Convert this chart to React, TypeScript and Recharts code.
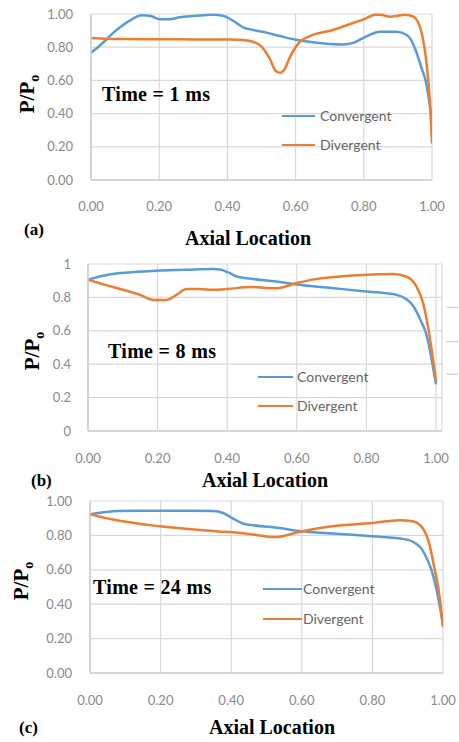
import React from 'react';
import { LineChart, Line, XAxis, YAxis, CartesianGrid, ReferenceLine } from 'recharts';

// ---------- data ----------
const xTicks = [0, 0.2, 0.4, 0.6, 0.8, 1.0];
const yTicks = [0, 0.2, 0.4, 0.6, 0.8, 1.0];
const seriesNames = ['Convergent', 'Divergent'];
const seriesColors = ['#5b9bd5', '#ed7d31'];
const panelLabels = ['(a)', '(b)', '(c)'];
const timeLabels = ['Time = 1 ms', 'Time = 8 ms', 'Time = 24 ms'];
const xTitle = 'Axial Location';

// (a) Time = 1 ms
const aConvX = [0, 0.02, 0.046, 0.07, 0.094, 0.12, 0.148, 0.175, 0.202, 0.23, 0.26, 0.3, 0.34, 0.358, 0.387, 0.416, 0.446, 0.475, 0.51, 0.554, 0.6, 0.65, 0.7, 0.74, 0.769, 0.809, 0.848, 0.897, 0.926, 0.94, 0.955, 0.97, 0.98, 0.99, 1.0];
const aConvY = [0.767, 0.8, 0.848, 0.895, 0.934, 0.968, 0.992, 0.988, 0.968, 0.968, 0.98, 0.988, 0.994, 0.996, 0.99, 0.96, 0.92, 0.904, 0.89, 0.867, 0.845, 0.83, 0.82, 0.817, 0.826, 0.867, 0.893, 0.893, 0.873, 0.84, 0.765, 0.67, 0.61, 0.5, 0.35];
const aDivX = [0, 0.05, 0.1, 0.2, 0.3, 0.4, 0.435, 0.475, 0.5, 0.523, 0.543, 0.555, 0.567, 0.584, 0.6, 0.613, 0.642, 0.71, 0.76, 0.8, 0.833, 0.85, 0.877, 0.9, 0.921, 0.945, 0.958, 0.97, 0.985, 0.993, 1.0];
const aDivY = [0.855, 0.85, 0.849, 0.848, 0.847, 0.847, 0.845, 0.833, 0.803, 0.735, 0.655, 0.646, 0.665, 0.743, 0.8, 0.833, 0.867, 0.904, 0.94, 0.968, 0.996, 0.995, 0.984, 0.99, 0.996, 0.985, 0.955, 0.884, 0.683, 0.5, 0.22];

// (b) Time = 8 ms
const bConvX = [0, 0.04, 0.092, 0.14, 0.197, 0.28, 0.36, 0.379, 0.405, 0.427, 0.475, 0.552, 0.6, 0.7, 0.8, 0.887, 0.914, 0.93, 0.944, 0.956, 0.968, 0.978, 0.988, 1.0];
const bConvY = [0.906, 0.928, 0.946, 0.953, 0.96, 0.965, 0.97, 0.967, 0.948, 0.925, 0.91, 0.892, 0.877, 0.856, 0.835, 0.815, 0.79, 0.76, 0.715, 0.66, 0.605, 0.53, 0.42, 0.28];
const bDivX = [0, 0.05, 0.101, 0.15, 0.188, 0.226, 0.254, 0.283, 0.32, 0.36, 0.4, 0.466, 0.543, 0.6, 0.65, 0.705, 0.8, 0.877, 0.914, 0.93, 0.944, 0.963, 0.977, 0.988, 1.0];
const bDivY = [0.906, 0.875, 0.846, 0.815, 0.785, 0.785, 0.815, 0.85, 0.85, 0.846, 0.85, 0.862, 0.855, 0.886, 0.908, 0.922, 0.936, 0.94, 0.925, 0.905, 0.865, 0.766, 0.625, 0.48, 0.3];
// short stray tick marks right of panel (b)
const bStubY = [0.74, 0.535, 0.34];
const bStubX = [1.03, 1.064];

// (c) Time = 24 ms
const cConvX = [0, 0.04, 0.083, 0.15, 0.25, 0.35, 0.377, 0.405, 0.433, 0.462, 0.537, 0.592, 0.7, 0.8, 0.895, 0.924, 0.94, 0.952, 0.966, 0.98, 0.99, 1.0];
const cConvY = [0.923, 0.935, 0.942, 0.943, 0.943, 0.942, 0.93, 0.898, 0.869, 0.859, 0.843, 0.826, 0.81, 0.795, 0.777, 0.752, 0.72, 0.674, 0.607, 0.5, 0.4, 0.277];
const cDivX = [0, 0.065, 0.198, 0.35, 0.445, 0.525, 0.592, 0.686, 0.8, 0.876, 0.914, 0.943, 0.961, 0.975, 0.99, 1.0];
const cDivY = [0.923, 0.892, 0.853, 0.826, 0.81, 0.79, 0.82, 0.853, 0.872, 0.888, 0.882, 0.84, 0.752, 0.616, 0.45, 0.267];

const zip = (xs: number[], ys: number[]) => xs.map((x, i) => ({ x, y: ys[i] }));

// ---------- layout ----------
const panels = [
  {
    top: 0, height: 250, margin: { top: 14, right: 27, bottom: 40, left: 51 },
    xMax: 1, yFmt: (v: number) => v.toFixed(2), yTickMargin: 18, xTickMargin: 22,
    series: [zip(aConvX, aConvY), zip(aDivX, aDivY)], stubs: null as number[] | null,
    yTitle: [27, 94], label: [24, 230], axial: [248, 238], time: [102, 94],
    legend: { x1: 282, x2: 315, ys: [116, 145], tx: 320 },
  },
  {
    top: 240, height: 250, margin: { top: 24, right: 17, bottom: 29, left: 48 },
    xMax: 1.0172, yFmt: (v: number) => String(v), yTickMargin: 17, xTickMargin: 23,
    series: [zip(bConvX, bConvY), zip(bDivX, bDivY)], stubs: bStubY,
    yTitle: [32, 351], label: [31, 481], axial: [265, 480], time: [108, 351],
    legend: { x1: 258, x2: 293, ys: [377, 406], tx: 297 },
  },
  {
    top: 490, height: 252, margin: { top: 11, right: 16, bottom: 39, left: 50 },
    xMax: 1, yFmt: (v: number) => v.toFixed(2), yTickMargin: 18, xTickMargin: 23,
    series: [zip(cConvX, cConvY), zip(cDivX, cDivY)], stubs: null,
    yTitle: [21, 581], label: [19, 728], axial: [272, 727], time: [93, 587],
    legend: { x1: 263, x2: 302, ys: [589, 619], tx: 303 },
  },
];

const tickFont = { fontFamily: 'Lato, "Open Sans", sans-serif', fontSize: 13, fill: '#8a8a8a' };
const serif = '"Liberation Serif", "Times New Roman", serif';

function Panel({ p, idx }: { p: any; idx: number }) {
  return (
    <>
      <div style={{ position: 'absolute', left: 0, top: p.top }}>
        <LineChart width={459} height={p.height} margin={p.margin}>
          <CartesianGrid stroke="#d9d9d9" strokeWidth={1.2} />
          <XAxis
            type="number" dataKey="x" domain={[0, p.xMax]} ticks={xTicks}
            tickFormatter={(v: number) => v.toFixed(2)} tick={tickFont}
            axisLine={{ stroke: '#cfcfcf', strokeWidth: 1.5 }} tickLine={false}
            tickSize={0} tickMargin={p.xTickMargin} height={30} allowDataOverflow
            interval={0}
          />
          <YAxis
            type="number" domain={[0, 1]} ticks={yTicks} tickFormatter={p.yFmt}
            tick={tickFont} axisLine={{ stroke: '#cfcfcf', strokeWidth: 1.5 }}
            tickLine={false} tickSize={0} tickMargin={p.yTickMargin} width={40}
            interval={0}
          />
          {p.stubs && p.stubs.map((v: number) => (
            <ReferenceLine
              key={v} ifOverflow="visible" stroke="#d0d0d0" strokeWidth={1.3}
              segment={[{ x: bStubX[0], y: v }, { x: bStubX[1], y: v }]}
            />
          ))}
          {p.series.map((d: any, i: number) => (
            <Line
              key={seriesNames[i]} data={d} dataKey="y" name={seriesNames[i]}
              type="monotone" stroke={seriesColors[i]} strokeWidth={2.5}
              dot={false} isAnimationActive={false}
            />
          ))}
        </LineChart>
      </div>
      {/* y-axis title */}
      <div style={{
        position: 'absolute', left: p.yTitle[0], top: p.yTitle[1],
        transform: 'translate(-50%, -50%) rotate(-90deg)', whiteSpace: 'nowrap',
        fontFamily: serif, fontWeight: 'bold', fontSize: 21, lineHeight: '21px', color: '#000',
      }}>
        P/P<span style={{ fontSize: 14, verticalAlign: -5, lineHeight: 0 }}>o</span>
      </div>
      {/* time annotation */}
      <div style={{
        position: 'absolute', left: p.time[0], top: p.time[1] - 10, whiteSpace: 'nowrap',
        fontFamily: serif, fontWeight: 'bold', fontSize: 20, lineHeight: '20px', letterSpacing: 0.3, color: '#000',
      }}>{timeLabels[idx]}</div>
      {/* x-axis title */}
      <div style={{
        position: 'absolute', left: p.axial[0], top: p.axial[1] - 10, transform: 'translateX(-50%)',
        whiteSpace: 'nowrap', fontFamily: serif, fontWeight: 'bold', fontSize: 20, lineHeight: '20px', color: '#000',
      }}>{xTitle}</div>
      {/* panel label */}
      <div style={{
        position: 'absolute', left: p.label[0], top: p.label[1] - 9, whiteSpace: 'nowrap',
        fontFamily: serif, fontWeight: 'bold', fontSize: 17, lineHeight: '18px', color: '#000',
      }}>{panelLabels[idx]}</div>
      {/* legend */}
      {seriesNames.map((n, i) => (
        <React.Fragment key={n}>
          <div style={{
            position: 'absolute', left: p.legend.x1, top: p.legend.ys[i] - 1.25,
            width: p.legend.x2 - p.legend.x1, height: 2.5, background: seriesColors[i],
          }} />
          <div style={{
            position: 'absolute', left: p.legend.tx, top: p.legend.ys[i] - 9, whiteSpace: 'nowrap',
            fontFamily: 'Lato, "Open Sans", sans-serif', fontSize: 14, lineHeight: '18px', color: '#666',
          }}>{n}</div>
        </React.Fragment>
      ))}
    </>
  );
}

export default function App() {
  return (
    <div style={{ position: 'absolute', left: 0, top: 0, width: 459, height: 742, background: '#fff', overflow: 'hidden' }}>
      {panels.map((p, i) => <Panel key={i} p={p} idx={i} />)}
    </div>
  );
}
